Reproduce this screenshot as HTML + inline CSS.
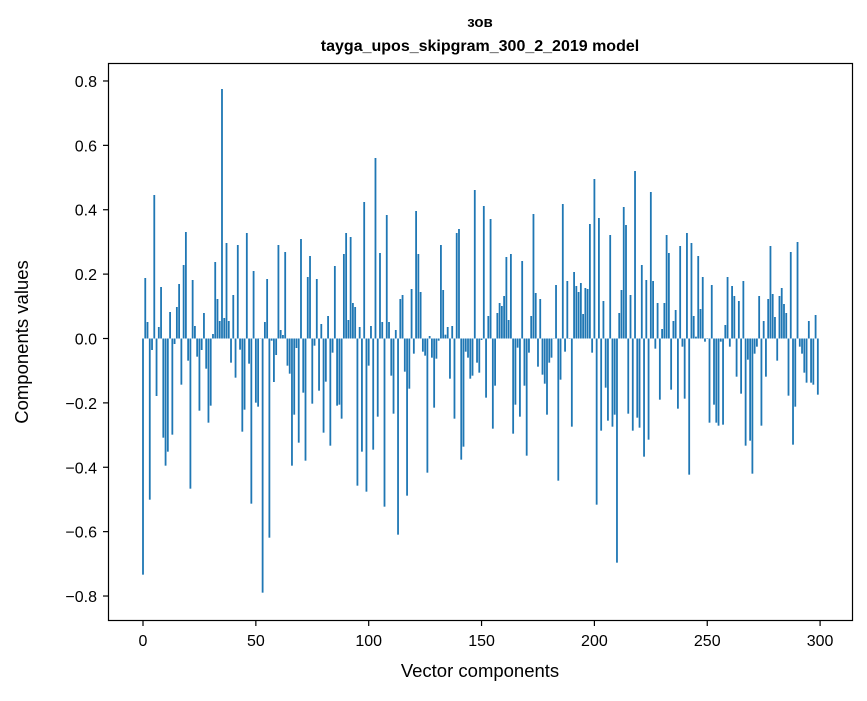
<!DOCTYPE html>
<html><head><meta charset="utf-8"><style>
body{margin:0;background:#fff;}
svg text{font-family:"Liberation Sans","DejaVu Sans",sans-serif;fill:#000;}
</style></head><body>
<svg id="s" width="867" height="696" xmlns="http://www.w3.org/2000/svg">
<rect width="867" height="696" fill="#fff"/>
<g id="bars" fill="#1f77b4"></g>
<g stroke="#000" stroke-width="1.2" fill="none">
<rect x="108.5" y="63.5" width="744" height="557"/>
</g>
<g id="ticks" stroke="#000" stroke-width="1.2"></g>
<g id="labels" font-size="16"></g>
<text x="480" y="27" text-anchor="middle" font-size="15" font-weight="bold">зов</text>
<text x="480" y="51" text-anchor="middle" font-size="16" font-weight="bold">tayga_upos_skipgram_300_2_2019 model</text>
<text x="480" y="677" text-anchor="middle" font-size="18.5">Vector components</text>
<text transform="translate(28,342) rotate(-90)" text-anchor="middle" font-size="18.5">Components values</text>
</svg>
<script>
var z=[1484,594,726,1259,810,345,948,741,621,1073,1157,1115,696,1064,792,681,612,914,555,456,842,1226,600,738,830,992,810,699,866,1028,977,762,546,657,723,27,714,489,723,848,645,893,495,809,1055,989,459,851,1271,573,968,980,776,1538,726,597,1373,782,906,825,495,750,765,516,857,881,1157,1004,804,1088,477,938,1142,591,528,971,
797,597,932,732,1058,905,708,1097,818,558,977,974,1016,522,459,720,471,669,681,1217,741,1115,366,1235,857,738,1109,234,1010,519,726,1280,405,726,887,1001,750,1364,657,645,875,1247,926,627,821,393,522,636,815,827,1178,768,833,983,836,782,495,630,764,741,896,738,1016,459,447,1139,1100,815,833,896,887,330,848,878,780,
378,953,708,417,1046,917,699,669,678,648,531,720,522,1061,974,803,1010,543,917,1127,818,708,402,639,860,657,884,911,1004,848,833,776,615,1202,899,372,815,603,774,1040,576,618,636,609,702,624,627,432,818,297,1274,414,1052,663,923,1022,465,1040,1004,1448,699,630,381,435,1001,645,1052,273,1013,1043,555,1130,600,1079,336,603,
806,669,959,747,669,465,519,929,723,690,986,498,800,956,459,1184,489,708,770,528,687,591,785,774,1028,615,974,1028,1037,785,1034,735,591,800,618,648,890,663,941,603,1097,839,1082,1181,821,800,648,1037,723,890,657,498,642,711,842,648,624,672,699,947,516,1094,980,486,800,821,878,908,723,908,914,705,944];
var b=document.getElementById('bars'),h='';
var y0=338.5;
for(var i=0;i<z.length;i++){var y=80+z[i]/3;var x=143+2.257*i-0.9;var t=Math.min(y,y0),hh=Math.abs(y-y0);if(hh<0.3)hh=0.3;h+='<rect x="'+x.toFixed(2)+'" y="'+t.toFixed(2)+'" width="1.8" height="'+hh.toFixed(2)+'"/>';}
b.innerHTML=h;
var tk='',lb='';
for(var k=0;k<=6;k++){var x=143+2.257*50*k;tk+='<line x1="'+x+'" y1="621" x2="'+x+'" y2="626"/>';lb+='<text x="'+x+'" y="646" text-anchor="middle">'+(50*k)+'</text>';}
var vals=[0.8,0.6,0.4,0.2,0,-0.2,-0.4,-0.6,-0.8];
vals.forEach(function(v){var y=y0-v*321.9;tk+='<line x1="103" y1="'+y+'" x2="108" y2="'+y+'"/>';var s=v==0?'0.0':(v<0?'\u2212'+(-v).toFixed(1):v.toFixed(1));lb+='<text x="97" y="'+(y+6)+'" text-anchor="end">'+s+'</text>';});
document.getElementById('ticks').innerHTML=tk;document.getElementById('labels').innerHTML=lb;
</script>
</body></html>
